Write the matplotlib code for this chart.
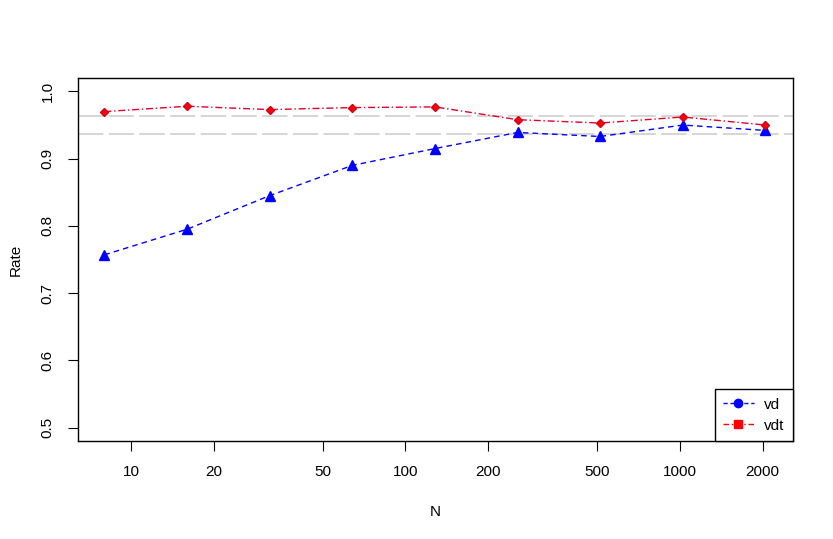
import matplotlib
matplotlib.use("Agg")
import matplotlib.pyplot as plt
import numpy as np
from matplotlib.lines import Line2D

N = [8, 16, 32, 64, 128, 256, 512, 1024, 2048]
vd = [0.757, 0.795, 0.845, 0.890, 0.915, 0.939, 0.933, 0.950, 0.942]
vdt = [0.970, 0.978, 0.973, 0.976, 0.977, 0.958, 0.953, 0.962, 0.950]
ref_lines = [0.9632, 0.9360]
xticks = [10, 20, 50, 100, 200, 500, 1000, 2000]
yticks = [0.5, 0.6, 0.7, 0.8, 0.9, 1.0]

plt.rcParams['font.family'] = ['Liberation Sans', 'DejaVu Sans']
fig = plt.figure(figsize=(8.33, 5.39), dpi=100)
ax = fig.add_axes([78/833, 1-441/539, (793-78)/833, (441-78)/539])

for v in ref_lines:
    ax.axhline(v, color='#d2d2d2', lw=1.3, ls=(0, (14, 3)), zorder=1)

ax.plot(N, vd, color='blue', ls=(0, (4, 3)), lw=1, marker='^', ms=6.5, zorder=3)
ax.plot(N, vdt, color='#e0002a', ls=(0, (5, 2, 1, 2)), lw=1, marker='D', ms=4.5,
        markerfacecolor='red', markeredgecolor='#d00020', zorder=3)

ax.set_xscale('log')
lx0, lx1 = np.log10(N[0]), np.log10(N[-1])
pad = 0.04 * (lx1 - lx0)
ax.set_xlim(10 ** (lx0 - pad), 10 ** (lx1 + pad) * 1.01)
ax.set_ylim(0.48, 1.02)
ax.set_xticks(xticks)
ax.set_xticklabels([str(t) for t in xticks])
ax.xaxis.set_minor_locator(matplotlib.ticker.NullLocator())
ax.set_yticks(yticks)
ax.set_yticklabels([f"{t:.1f}" for t in yticks], rotation=90, va='center')
ax.tick_params(axis='both', length=7, width=0.8, labelsize=11, color='black')
ax.tick_params(axis='x', pad=10)
ax.tick_params(axis='y', pad=10)
for s in ax.spines.values():
    s.set_linewidth(1)
ax.set_xlabel('N', fontsize=11, labelpad=19)
ax.set_ylabel('Rate', fontsize=11, labelpad=13)

handles = [
    Line2D([], [], color='blue', ls=(0, (3, 2)), lw=1, marker='o', ms=6),
    Line2D([], [], color='red', ls=(0, (4, 2, 1, 2)), lw=1, marker='s', ms=6),
]
leg = ax.legend(handles, ['vd', 'vdt'], loc='lower right', borderaxespad=0,
                fancybox=False, edgecolor='black', framealpha=1, fontsize=11,
                handlelength=2.0, borderpad=0.55, labelspacing=0.45, handletextpad=0.7)
leg.get_frame().set_linewidth(1)

fig.savefig('out.png', dpi=100)
